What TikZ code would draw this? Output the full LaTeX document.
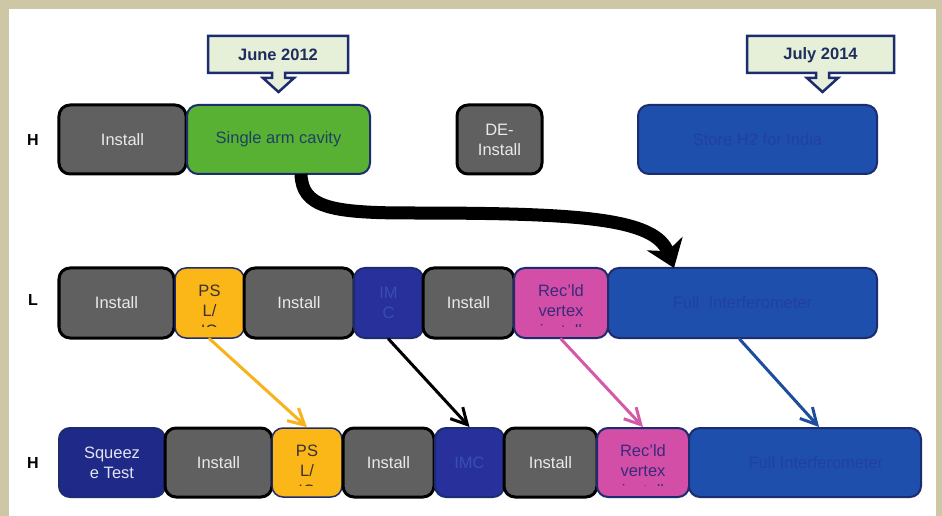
\documentclass[tikz,border=0pt]{standalone}
\usepackage{fontspec}
\setmainfont{Liberation Sans}
\usetikzlibrary{arrows.meta,calc}
\definecolor{beige}{HTML}{CDC7A5}
\definecolor{boxgray}{HTML}{606060}
\definecolor{installtext}{HTML}{EAEAEA}
\definecolor{navyline}{HTML}{1D2C6E}
\definecolor{greenfill}{HTML}{58B133}
\definecolor{greentext}{HTML}{1E4262}
\definecolor{yellowfill}{HTML}{FBB617}
\definecolor{pstext}{HTML}{3A3232}
\definecolor{imcfill}{HTML}{27309B}
\definecolor{imctext}{HTML}{3A4DB5}
\definecolor{bluefill}{HTML}{1E4FAD}
\definecolor{bluetext}{HTML}{2240A0}
\definecolor{pinkfill}{HTML}{D34FA7}
\definecolor{pinktext}{HTML}{3A2A7A}
\definecolor{sqfill}{HTML}{1F2988}
\definecolor{sqtext}{HTML}{E2E4F2}
\definecolor{callfill}{HTML}{E6F0D8}
\definecolor{calltext}{HTML}{1F2D5E}
\definecolor{arryellow}{HTML}{F7B21C}
\definecolor{arrpink}{HTML}{D45AA8}
\definecolor{arrblue}{HTML}{1F4D9E}
\begin{document}
\begin{tikzpicture}[x=1bp,y=-1bp,
  box/.style={rounded corners=11bp, minimum height=69bp, inner sep=0pt,
    align=center, font=\fontsize{16.5bp}{20bp}\selectfont},
  graybox/.style={box, fill=boxgray, draw=black, line width=3bp, text=installtext},
  greenbox/.style={box, fill=greenfill, draw=navyline, line width=2bp, text=greentext},
  yellowbox/.style={box, fill=yellowfill, draw=navyline, line width=1.5bp},
  imcbox/.style={box, fill=imcfill, draw=navyline, line width=2bp, text=imctext},
  bluebox/.style={box, fill=bluefill, draw=navyline, line width=2bp, text=bluetext},
  pinkbox/.style={box, fill=pinkfill, draw=navyline, line width=2bp},
  sqbox/.style={box, fill=sqfill, draw=navyline, line width=2bp, text=sqtext},
  clipped/.style 2 args={path picture={
    \begin{scope}
      \clip ([yshift=12bp]path picture bounding box.south west) rectangle (path picture bounding box.north east);
      \node[align=center, inner sep=0pt, text=#1, font=\fontsize{16.5bp}{20bp}\selectfont]
        at ([yshift=-8bp]path picture bounding box.center) {#2};
    \end{scope}}},
  rowlabel/.style={font=\bfseries\fontsize{16bp}{18bp}\selectfont, text=black},
  thinarrow/.style={line width=3bp, line cap=round, -{Straight Barb[length=16bp,width=17bp]}},
  callout/.style={fill=callfill, draw=navyline, line width=2.5bp, line join=miter},
  calllabel/.style={font=\bfseries\fontsize{16.5bp}{20bp}\selectfont, text=calltext, inner sep=0pt}
]
\useasboundingbox (0,0) rectangle (942,516);
\fill[beige] (0,0) rectangle (942,516);
\fill[white] (9,9) rectangle (936,516);

% row labels
\node[rowlabel] (lh1) at (33,140) {H};
\node[rowlabel] (ll) at (33,300) {L};
\node[rowlabel] (lh2) at (33,463) {H};

% callouts
\draw[callout] (208,36) -- (348,36) -- (348,73) -- (285,73) -- (285,78) -- (294,78)
  -- (278.5,92) -- (263,78) -- (272,78) -- (272,73) -- (208,73) -- cycle;
\node[calllabel] (june) at (278,55) {June 2012};
\draw[callout] (747,36) -- (894,36) -- (894,73) -- (829,73) -- (829,78) -- (838,78)
  -- (822.5,92) -- (807,78) -- (816,78) -- (816,73) -- (747,73) -- cycle;
\node[calllabel] (july) at (820.5,55) {July 2014};

% top row H
\node[graybox, minimum width=127bp] (inst1) at (122.5,139.5) {Install};
\node[greenbox, minimum width=183bp] (green) at (278.5,139.5) {Single arm cavity};
\node[graybox, minimum width=85bp] (deinst) at (499.5,139.5) {DE-\\Install};
\node[bluebox, minimum width=239bp] (store) at (757.5,139.5) {Store H2 for India};

% middle row L
\node[graybox, minimum width=115bp, minimum height=70bp] (lm1) at (116.5,303) {Install};
\node[yellowbox, minimum width=69bp, minimum height=70bp, clipped={pstext}{PS\\L/\\IO}] (psm) at (209.5,303) {};
\node[graybox, minimum width=110bp, minimum height=70bp] (lm2) at (299,303) {Install};
\node[imcbox, minimum width=69bp, minimum height=70bp] (imcm) at (388.5,303) {IM\\C};
\node[graybox, minimum width=91bp, minimum height=70bp] (lm3) at (468.5,303) {Install};
\node[pinkbox, minimum width=94bp, minimum height=70bp, clipped={pinktext}{Rec'ld\\vertex\\install}] (recm) at (561,303) {};
\node[bluebox, minimum width=269bp, minimum height=70bp] (fullm) at (742.5,303) {Full\ \ Interferometer};

% bottom row H
\node[sqbox, minimum width=106bp] (sq) at (112,462.5) {Squeez\\e Test};
\node[graybox, minimum width=107bp] (hb1) at (218.5,462.5) {Install};
\node[yellowbox, minimum width=70bp, clipped={pstext}{PS\\L/\\IO}] (psb) at (307,462.5) {};
\node[graybox, minimum width=91bp] (hb2) at (388.5,462.5) {Install};
\node[imcbox, minimum width=69bp] (imcb) at (469.5,462.5) {IMC};
\node[graybox, minimum width=93bp] (hb3) at (550.5,462.5) {Install};
\node[pinkbox, minimum width=92bp, clipped={pinktext}{Rec'ld\\vertex\\install}] (recb) at (643,462.5) {};
\node[bluebox, minimum width=232bp] (fullb) at (805,462.5) {\hspace*{22bp}Full Interferometer};

% big curved arrow
\coordinate (bs) at ($(green.south west)+(115,-1)$);
\coordinate (bm) at (410,213);
\coordinate (be) at ($(fullm.north west)+(67,1)$);
\draw[line width=13bp, -{Stealth[length=26bp,width=38bp,inset=8bp]}]
  (bs) .. controls (302,207) and (330,213) .. (bm)
       .. controls (580,213) and (655,218) .. (be);

% thin arrows
\draw[thinarrow, arryellow] (psm.south) -- (psb.north);
\draw[thinarrow, black] (imcm.south) -- (imcb.north);
\draw[thinarrow, arrpink] (recm.south) -- (recb.north);
\draw[thinarrow, arrblue] ($(fullm.south)+(-3,0)$) -- ($(fullb.north)+(14,0)$);
\end{tikzpicture}
\end{document}
